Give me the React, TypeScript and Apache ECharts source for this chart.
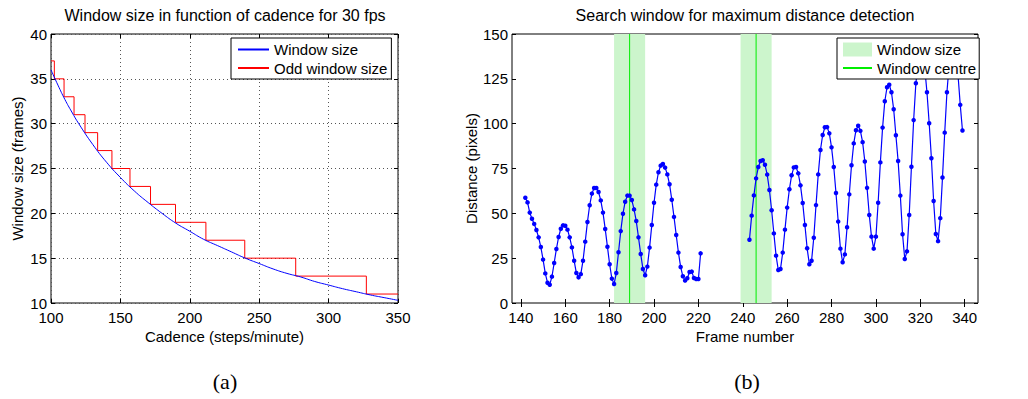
import React, { useEffect, useRef } from "react";
import * as echarts from "echarts";

// ---------- (a) Window size vs cadence ----------
const cadence = [100, 105, 110, 115, 120, 130, 140, 150, 160, 170, 180, 190, 200, 210, 220, 230, 240, 250, 260, 270, 280, 290, 300, 310, 320, 330, 340, 350];
const windowSize = [36.0, 34.3, 32.7, 31.3, 30.0, 27.7, 25.7, 24.0, 22.5, 21.2, 20.0, 18.9, 18.0, 17.1, 16.4, 15.7, 15.0, 14.4, 13.8, 13.3, 12.9, 12.4, 12.0, 11.6, 11.25, 10.9, 10.6, 10.3];
const oddStepCadence = [100, 102.4, 109.4, 116.6, 124.5, 133.6, 143.9, 156.9, 171.7, 189.7, 211.6, 239.6, 276.3, 327.2, 350];
const oddWindowSize = [37, 35, 33, 31, 29, 27, 25, 23, 21, 19, 17, 15, 13, 11, 11];

// ---------- (b) Search window ----------
const seg1StartFrame = 142;
const seg1Distance = [
  58.7, 56.1, 50.4, 47.0, 44.1, 40.7, 36.6, 31.2, 24.2, 16.5,
  11.3, 10.2, 14.7, 22.3, 30.1, 36.8, 41.4, 43.3, 43.1, 40.9,
  36.6, 31.0, 23.6, 16.7, 14.3, 16.1, 23.6, 34.2, 45.2, 54.5,
  61.0, 64.1, 64.1, 61.9, 57.2, 50.4, 41.3, 31.4, 21.6, 13.6,
  10.6, 16.7, 28.3, 40.1, 49.8, 56.5, 59.9, 59.9, 57.4, 52.2,
  45.7, 36.6, 27.3, 19.0, 15.5, 20.3, 30.9, 43.5, 55.9, 66.0,
  72.9, 76.6, 77.5, 75.5, 71.7, 66.2, 57.6, 48.0, 37.9, 28.1,
  20.1, 14.9, 12.5, 13.8, 17.3, 17.5, 13.9, 13.4, 13.4, 27.7,
];
const seg2StartFrame = 243;
const seg2Distance = [
  35.3, 48.7, 60.0, 69.5, 75.8, 79.2, 79.6, 77.1, 71.6, 63.0,
  51.7, 38.8, 26.4, 18.4, 19.0, 28.1, 40.9, 53.2, 63.4, 71.2,
  75.6, 75.8, 72.3, 65.6, 55.8, 43.5, 30.5, 21.6, 23.6, 36.4,
  54.6, 71.7, 85.3, 93.7, 98.0, 98.1, 94.6, 86.8, 75.8, 61.3,
  45.4, 30.3, 22.7, 27.1, 42.2, 60.6, 76.8, 89.0, 96.3, 98.8,
  96.0, 89.7, 78.9, 64.2, 49.1, 37.0, 30.3, 37.0, 55.9, 78.4,
  97.8, 112.5, 120.3, 121.7, 117.5, 108.0, 93.5, 79.2, 59.9, 38.3,
  24.5, 28.8, 49.1, 76.0, 102.0, 122.5, 134, 139, 138, 131,
  117.5, 100.2, 80.7, 56.9, 38.5, 34.5, 47.3, 70.0, 95.0, 117.5,
  133, 141, 144, 140, 127, 110.5, 96.2,
];
const windowStart = [182, 239];
const windowEnd = [196, 253];
const windowCentre = [189, 246];
const frameTicks = [140, 160, 180, 200, 220, 240, 260, 280, 300, 320, 340];

const FONT = "Liberation Sans";
const BLACK = "#000";

function boxAxes(gridIndex: number, xCfg: any, yCfg: any, grid: boolean) {
  const tick = { show: true, inside: true, length: 4, lineStyle: { color: BLACK, width: 1 } };
  const label = { color: BLACK, fontFamily: FONT, fontSize: 15, lineHeight: 12 };
  const split = grid
    ? { show: true, lineStyle: { color: "#555", type: [1, 3], width: 1 } }
    : { show: false };
  const xs = [
    {
      gridIndex, type: "value", position: "bottom", ...xCfg.base,
      axisLine: { show: false }, axisTick: { ...tick, ...(xCfg.tick || {}) },
      axisLabel: { ...label, margin: 8, ...(xCfg.label || {}) },
      splitLine: split,
      name: xCfg.name, nameLocation: "middle", nameGap: 23,
      nameTextStyle: { color: BLACK, fontFamily: FONT, fontSize: 15 },
    },
    {
      gridIndex, type: "value", position: "top", ...xCfg.base,
      axisLine: { show: false }, axisTick: { ...tick, ...(xCfg.tick || {}) },
      axisLabel: { show: false }, splitLine: { show: false },
    },
  ];
  const ys = [
    {
      gridIndex, type: "value", position: "left", ...yCfg.base,
      axisLine: { show: false }, axisTick: tick,
      axisLabel: { ...label, margin: 4 },
      splitLine: split,
      name: yCfg.name, nameLocation: "middle", nameGap: yCfg.nameGap,
      nameTextStyle: { color: BLACK, fontFamily: FONT, fontSize: 15 },
    },
    {
      gridIndex, type: "value", position: "right", ...yCfg.base,
      axisLine: { show: false }, axisTick: tick,
      axisLabel: { show: false }, splitLine: { show: false },
    },
  ];
  return { xs, ys };
}

export default function App() {
  const ref = useRef<HTMLDivElement>(null);

  useEffect(() => {
    if (!ref.current) return;
    const chart = echarts.init(ref.current, undefined, { renderer: "svg" });

    const a = boxAxes(
      0,
      { base: { min: 100, max: 350, interval: 50 }, name: "Cadence (steps/minute)" },
      { base: { min: 10, max: 40, interval: 5 }, name: "Window size (frames)", nameGap: 26 },
      true
    );
    const b = boxAxes(
      1,
      {
        base: { min: 136, max: 346 },
        name: "Frame number",
        tick: { customValues: frameTicks },
        label: { customValues: frameTicks },
      },
      { base: { min: 0, max: 150, interval: 25 }, name: "Distance (pixels)", nameGap: 32 },
      false
    );

    const seg1 = seg1Distance.map((v, i) => [seg1StartFrame + i, v]);
    const seg2 = seg2Distance.map((v, i) => [seg2StartFrame + i, v]);

    const centreSeries = windowCentre.map((c) => ({
      name: "Window centre",
      type: "line",
      xAxisIndex: 2,
      yAxisIndex: 2,
      data: [[c, 0], [c, 150]],
      symbol: "none",
      lineStyle: { color: "#00ee00", width: 1 },
      itemStyle: { color: "#00ee00" },
      z: 3,
    }));

    const distanceStyle = {
      type: "line",
      xAxisIndex: 2,
      yAxisIndex: 2,
      symbol: "circle",
      symbolSize: 4.5,
      showSymbol: true,
      lineStyle: { color: "#0000ff", width: 1.2 },
      itemStyle: { color: "#0000ff" },
      z: 3,
    };

    const legendText = { color: BLACK, fontFamily: FONT, fontSize: 15 };
    const noSymbol = { opacity: 0 };

    chart.setOption({
      animation: false,
      grid: [
        { left: 51, top: 34, width: 347, height: 269, show: true, borderColor: BLACK, borderWidth: 1, backgroundColor: "transparent" },
        { left: 512, top: 34, width: 466, height: 269, show: true, borderColor: BLACK, borderWidth: 1, backgroundColor: "transparent" },
      ],
      xAxis: [...a.xs, ...b.xs],
      yAxis: [...a.ys, ...b.ys],
      legend: [
        {
          orient: "vertical",
          left: 231,
          top: 38,
          data: [
            { name: "Window size", itemStyle: noSymbol },
            { name: "Odd window size", itemStyle: noSymbol },
          ],
          itemWidth: 31,
          itemHeight: 14,
          itemGap: 3.5,
          padding: [4, 4, 3.5, 6],
          borderColor: BLACK,
          borderWidth: 1,
          borderRadius: 0,
          backgroundColor: "#fff",
          textStyle: legendText,
          selectedMode: false,
          z: 10,
        },
        {
          orient: "vertical",
          left: 837,
          top: 38,
          data: [
            { name: "Window size", icon: "rect", itemStyle: { color: "#ccf5cc", borderWidth: 0, opacity: 1 } },
            { name: "Window centre", itemStyle: noSymbol },
          ],
          itemWidth: 29,
          itemHeight: 14,
          itemGap: 3.5,
          padding: [4, 3, 3.5, 5],
          borderColor: BLACK,
          borderWidth: 1,
          borderRadius: 0,
          backgroundColor: "#fff",
          textStyle: legendText,
          selectedMode: false,
          z: 10,
        },
      ],
      graphic: [
        {
          type: "text", x: 225, y: 15,
          style: { text: "Window size in function of cadence for 30 fps", font: `16px "${FONT}"`, fill: BLACK, textAlign: "center", textVerticalAlign: "middle" },
        },
        {
          type: "text", x: 745, y: 15,
          style: { text: "Search window for maximum distance detection", font: `16px "${FONT}"`, fill: BLACK, textAlign: "center", textVerticalAlign: "middle" },
        },
        {
          type: "text", x: 225, y: 381,
          style: { text: "(a)", font: `22px "Liberation Serif"`, fill: BLACK, textAlign: "center", textVerticalAlign: "middle" },
        },
        {
          type: "text", x: 747, y: 381,
          style: { text: "(b)", font: `22px "Liberation Serif"`, fill: BLACK, textAlign: "center", textVerticalAlign: "middle" },
        },
      ],
      series: [
        {
          name: "Window size",
          type: "line",
          xAxisIndex: 0,
          yAxisIndex: 0,
          data: cadence.map((c, i) => [c, windowSize[i]]),
          smooth: true,
          symbol: "none",
          lineStyle: { color: "#0000ff", width: 1 },
          itemStyle: { color: "#0000ff" },
          z: 3,
        },
        {
          name: "Odd window size",
          type: "line",
          xAxisIndex: 0,
          yAxisIndex: 0,
          data: oddStepCadence.map((c, i) => [c, oddWindowSize[i]]),
          step: "end",
          symbol: "none",
          lineStyle: { color: "#ff0000", width: 1 },
          itemStyle: { color: "#ff0000" },
          z: 2,
        },
        {
          name: "Window size",
          type: "line",
          xAxisIndex: 2,
          yAxisIndex: 2,
          data: [],
          symbol: "none",
          itemStyle: { color: "#ccf5cc" },
          markArea: {
            silent: true,
            itemStyle: { color: "#ccf5cc" },
            data: windowStart.map((s, i) => [{ xAxis: s }, { xAxis: windowEnd[i] }]),
          },
          z: 1,
        },
        ...centreSeries,
        { name: "Distance", data: seg1, ...distanceStyle },
        { name: "Distance", data: seg2, ...distanceStyle },
      ],
    });

    return () => chart.dispose();
  }, []);

  return (
    <div
      ref={ref}
      style={{ position: "absolute", left: 0, top: 0, width: 1028, height: 399, background: "#fff" }}
    />
  );
}
